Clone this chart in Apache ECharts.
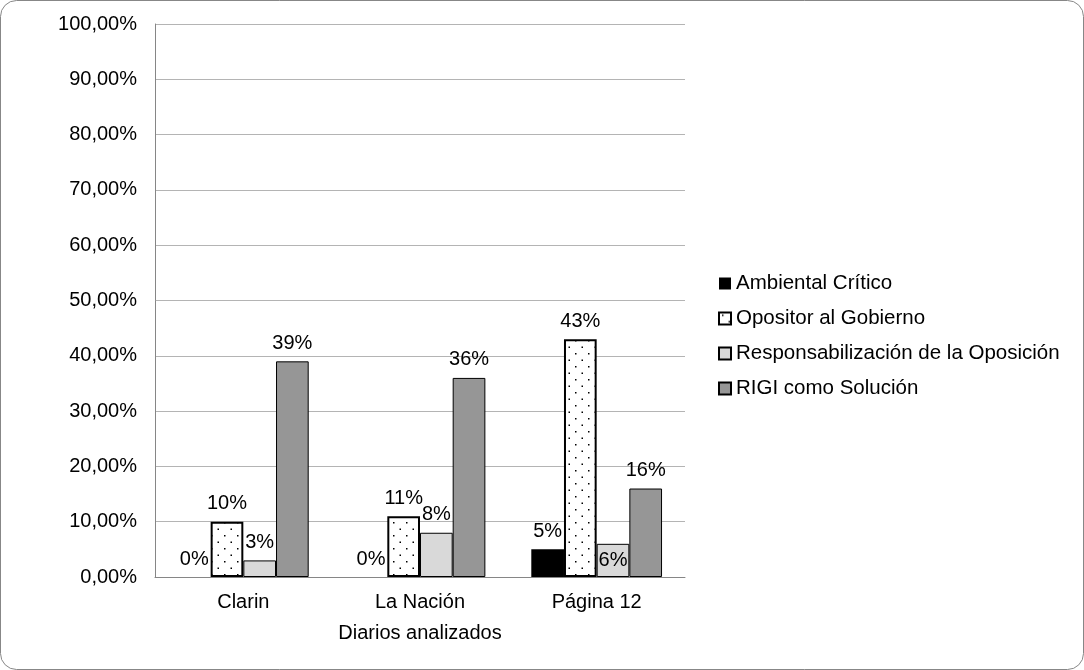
<!DOCTYPE html>
<html>
<head>
<meta charset="utf-8">
<script src="https://cdn.jsdelivr.net/npm/echarts@6/dist/echarts.min.js"></script>
<style>
  html, body { margin: 0; padding: 0; background: #ffffff; }
  #chart { width: 1084px; height: 670px; }
</style>
</head>
<body>
<div id="chart"></div>
<script>
// Diarios analizados: share of each frame per newspaper (%).
const diarios = ['Clarin', 'La Nación', 'Página 12'];
const ambientalCritico = [0, 0, 5];
const opositorGobierno = [10, 11, 43];
const responsabilizacion = [3, 8, 6];
const rigiSolucion = [39, 36, 16];

const FONT = 'Liberation Sans, Arial, sans-serif';

// sparse dotted tile for the "Opositor" bars
function dotPattern() {
    const c = document.createElement('canvas');
    c.width = 13; c.height = 13;
    const g = c.getContext('2d');
    g.fillStyle = '#ffffff';
    g.fillRect(0, 0, 13, 13);
    g.fillStyle = '#000000';
    g.fillRect(3, 2, 1.5, 1.5);
    g.fillRect(9.5, 8.5, 1.5, 1.5);
    return c;
}

const label = {
    show: true, position: 'top', distance: 8,
    fontSize: 20, fontFamily: FONT, color: '#000000',
    formatter: '{c}%'
};

const chart = echarts.init(document.getElementById('chart'));
chart.setOption({
    animation: false,
    backgroundColor: '#ffffff',
    textStyle: { fontFamily: FONT },
    graphic: [{
        type: 'rect',
        shape: { x: 0.5, y: 0.5, width: 1083, height: 669, r: 16 },
        style: { fill: 'none', stroke: '#878787', lineWidth: 1 },
        silent: true
    }],
    grid: { left: 155, right: 399, top: 24, bottom: 93 },
    legend: {
        orient: 'vertical',
        left: 713,
        top: 268,
        icon: 'rect',
        itemWidth: 12,
        itemHeight: 12,
        itemGap: 14,
        textStyle: { fontSize: 20.5, fontFamily: FONT, color: '#000000', lineHeight: 20 },
        data: ['Ambiental Crítico', 'Opositor al Gobierno',
               'Responsabilización de la Oposición', 'RIGI como Solución']
    },
    xAxis: {
        type: 'category',
        data: diarios,
        name: 'Diarios analizados',
        nameLocation: 'middle',
        nameGap: 46,
        nameTextStyle: { fontSize: 20, fontFamily: FONT, color: '#000000' },
        axisLine: { lineStyle: { color: '#868686', width: 1 } },
        axisTick: { show: false },
        axisLabel: { fontSize: 20, fontFamily: FONT, color: '#000000', margin: 15 }
    },
    yAxis: {
        type: 'value',
        min: 0,
        max: 100,
        interval: 10,
        axisLine: { show: true, lineStyle: { color: '#868686', width: 1 } },
        axisTick: { show: false },
        splitLine: { lineStyle: { color: '#b4b4b4', width: 1 } },
        axisLabel: {
            fontSize: 20, fontFamily: FONT, color: '#000000', margin: 18,
            formatter: v => v.toFixed(2).replace('.', ',') + '%'
        }
    },
    series: [
        {
            name: 'Ambiental Crítico',
            type: 'bar',
            data: ambientalCritico,
            barGap: '0%',
            barCategoryGap: '26%',
            itemStyle: { color: '#000000', borderWidth: 0 },
            label: label
        },
        {
            name: 'Opositor al Gobierno',
            type: 'bar',
            data: opositorGobierno,
            itemStyle: {
                color: { image: dotPattern(), repeat: 'repeat' },
                borderColor: '#000000', borderWidth: 2
            },
            label: label
        },
        {
            name: 'Responsabilización de la Oposición',
            type: 'bar',
            data: responsabilizacion.map((v, i) => i === 2
                ? { value: v, label: { position: 'inside' } }
                : v),
            itemStyle: { color: '#d9d9d9', borderColor: '#000000', borderWidth: 1 },
            label: label
        },
        {
            name: 'RIGI como Solución',
            type: 'bar',
            data: rigiSolucion,
            itemStyle: { color: '#969696', borderColor: '#000000', borderWidth: 1 },
            label: label
        }
    ]
});
</script>
</body>
</html>
